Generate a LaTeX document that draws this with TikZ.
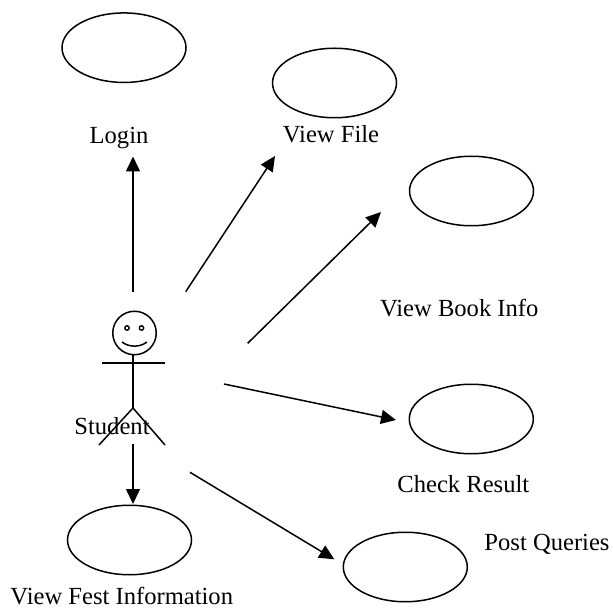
\documentclass[tikz,border=0pt]{standalone}
\usepackage{fontspec}
\setmainfont{Liberation Serif}
\usetikzlibrary{arrows.meta,shapes.geometric}
\tikzset{
  usecase/.style={draw=black,line width=1.5pt,ellipse,minimum width=124pt,minimum height=69.5pt,inner sep=0pt},
  lbl/.style={font=\fontsize{24.6}{26}\selectfont,inner sep=0pt,text=black,anchor=base},
  arr/.style={line width=1.5pt,-{Triangle[length=15pt,width=14pt]}},
  fig/.style={line width=1.5pt}
}
\begin{document}
\begin{tikzpicture}[x=1pt,y=-1pt]
\useasboundingbox (0,0) rectangle (613,609);
\node[usecase] (login) at (124,47.7) {};
\node[usecase] (file) at (334.5,83) {};
\node[usecase] (book) at (471.5,191) {};
\node[usecase] (result) at (471.3,419) {};
\node[usecase] (fest) at (129.5,540) {};
\node[usecase] (post) at (405.3,567) {};
\node[lbl] (tlogin) at (119,143.3) {Login};
\node[lbl] (tfile) at (331,143) {View File};
\node[lbl] (tbook) at (459.3,317) {View Book Info};
\node[lbl] (tresult) at (463.3,492.3) {Check Result};
\node[lbl] (tpost) at (547,550) {Post Queries};
\node[lbl] (tfest) at (121.8,604) {View Fest Information};
\node[lbl] (tstudent) at (112,434) {Student};
% stick figure
\node[draw,circle,line width=1.5pt,minimum size=43.5pt,inner sep=0pt] (head) at (134.5,333) {};
\coordinate (neck) at (133,354.5);
\coordinate (shl) at (102,363);
\coordinate (shr) at (165,363);
\coordinate (hip) at (133,408);
\coordinate (fl) at (99,445);
\coordinate (fr) at (165,445);
\draw[fig] (neck) -- (hip);
\draw[fig] (shl) -- (shr);
\draw[fig] (fl) -- (hip) -- (fr);
\draw[fig] (122,342) .. controls (129,347.5) and (140,347.5) .. (147,342);
\draw[line width=1.4pt] (127,328) circle (2.2pt) (141.5,328) circle (2.2pt);
% connectors
\coordinate (a1) at (133,291.7);
\coordinate (a1e) at (133,156.5);
\coordinate (a2) at (185.7,291.7);
\coordinate (a2e) at (275,156);
\coordinate (a3) at (247.7,343.3);
\coordinate (a3e) at (381,212);
\coordinate (a4) at (224,384);
\coordinate (a4e) at (396,420);
\coordinate (a5) at (133,444);
\coordinate (a5e) at (133,504);
\coordinate (a6) at (190,472.3);
\coordinate (a6e) at (334.3,559.3);
\draw[arr] (a1) -- (a1e);
\draw[arr] (a2) -- (a2e);
\draw[arr] (a3) -- (a3e);
\draw[arr] (a4) -- (a4e);
\draw[arr] (a5) -- (a5e);
\draw[arr] (a6) -- (a6e);
\end{tikzpicture}
\end{document}
